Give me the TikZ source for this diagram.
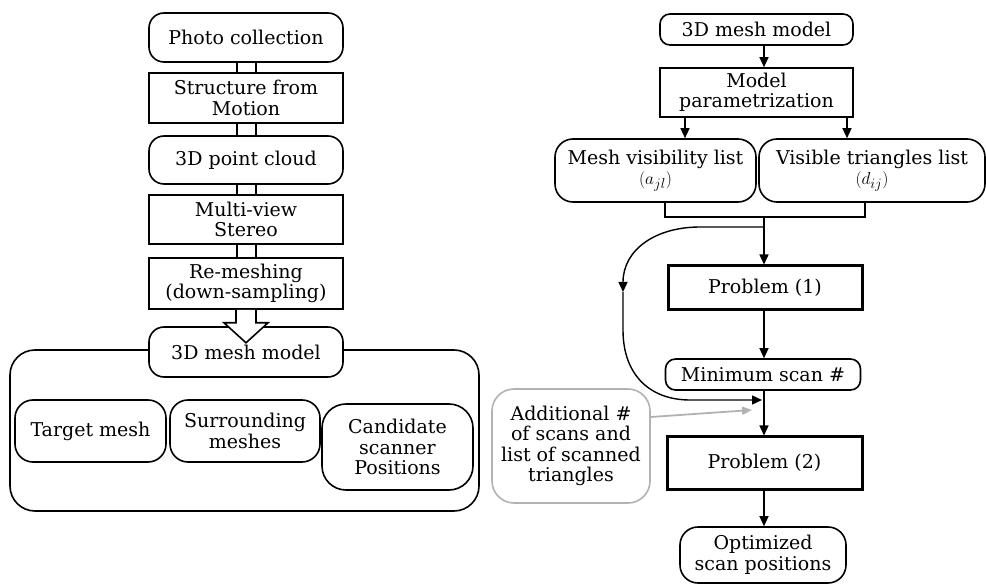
\documentclass[tikz,border=0pt]{standalone}
\usepackage{fontspec}
\setmainfont{DejaVu Serif}
\usetikzlibrary{arrows.meta}
\begin{document}
\begin{tikzpicture}[x=1pt,y=-1pt,
  every node/.style={font=\fontsize{19}{20.5}\selectfont, align=center, inner sep=0pt},
  sbox/.style={draw, line width=1.6pt, fill=white},
  rbox/.style={draw, line width=1.6pt, fill=white, rounded corners=15pt},
  pbox/.style={draw, line width=3pt, fill=white},
  pipe/.style={line width=1.4pt},
  hollow/.style={line width=1.6pt, fill=white, line join=miter},
  arr/.style={line width=1.4pt, -{Triangle[length=10pt,width=9pt]}},
  grayarr/.style={line width=1.8pt, draw=gray!60, -{Triangle[length=10pt,width=8pt,fill=gray!60]}},
  conn/.style={line width=1.4pt}]
\useasboundingbox (0,0) rectangle (986,585);

% ---------- left column ----------
\coordinate (pl) at (237,0);
\coordinate (pr) at (256,0);
\node[rbox, minimum width=194pt, minimum height=49pt] (pc) at (246,37.5) {Photo collection};
\node[sbox, minimum width=194pt, minimum height=50pt] (sfm) at (246,98) {Structure from\\Motion};
\node[rbox, minimum width=194pt, minimum height=48pt] (cloud) at (246,160) {3D point cloud};
\node[sbox, minimum width=194pt, minimum height=49pt] (mvs) at (246,219.5) {Multi-view\\Stereo};
\node[sbox, minimum width=194pt, minimum height=51pt] (remesh) at (246,283.5) {Re-meshing\\(down-sampling)};
\foreach \a/\b in {pc/sfm,sfm/cloud,cloud/mvs,mvs/remesh}{
  \draw[pipe] (\a.south -| pl) -- (\b.north -| pl);
  \draw[pipe] (\a.south -| pr) -- (\b.north -| pr);
}
\node[draw, line width=1.6pt, rounded corners=25pt, minimum width=469pt, minimum height=161pt] (cont) at (244.5,430.5) {};
\node[rbox, minimum width=194pt, minimum height=50pt] (mesh) at (246,352) {3D mesh model};
\draw[hollow] ([xshift=-10pt]remesh.south) -- ++(0,13) -- ++(-12,0) -- ++(22,20) -- ++(22,-20) -- ++(-12,0) -- ++(0,-13);
\node[rbox, minimum width=151pt, minimum height=62pt, rounded corners=18pt] (target) at (90.5,431) {Target mesh};
\node[rbox, minimum width=150pt, minimum height=62pt, rounded corners=18pt] (surr) at (245,431) {Surrounding\\meshes};
\node[rbox, minimum width=151pt, minimum height=86pt, rounded corners=24pt] (cand) at (397.5,447) {Candidate\\scanner\\Positions};

% ---------- right column ----------
\coordinate (spine) at (764,0);
\coordinate (ax1) at (685,0);
\coordinate (ax2) at (847,0);
\node[rbox, minimum width=193pt, minimum height=31pt, rounded corners=10pt] (rmesh) at (756.5,29.5) {3D mesh model};
\node[sbox, minimum width=193pt, minimum height=49pt] (mparam) at (756.5,92.5) {Model\\parametrization};
\node[rbox, minimum width=201pt, minimum height=63pt, rounded corners=18pt] (mvl) at (655.5,170.5) {Mesh visibility list\\$(a_{jl})$};
\node[rbox, minimum width=226pt, minimum height=63pt, rounded corners=18pt] (vtl) at (872,170.5) {Visible triangles list\\$(d_{ij})$};
\coordinate (brL) at (665,217);
\coordinate (brR) at (865,217);
\coordinate (brM) at (764,217);
\draw[conn] (brL |- mvl.south) -- (brL) -- (brR) -- (brR |- vtl.south);
\draw[arr] (rmesh.south -| spine) -- (mparam.north -| spine);
\draw[arr] (mparam.south -| ax1) -- (mvl.north -| ax1);
\draw[arr] (mparam.south -| ax2) -- (vtl.north -| ax2);

\node[pbox, minimum width=194pt, minimum height=44pt] (p1) at (765,288) {Problem (1)};
\node[rbox, minimum width=195pt, minimum height=31pt, rounded corners=10pt] (minscan) at (763,374.5) {Minimum scan \#};
\node[pbox, minimum width=195pt, minimum height=52pt] (p2) at (764.5,463) {Problem (2)};
\node[rbox, minimum width=166pt, minimum height=56pt, rounded corners=18pt] (opt) at (763,555) {Optimized\\scan positions};
\node[rbox, draw=gray!60, minimum width=158pt, minimum height=114pt, rounded corners=22pt] (add) at (571,446) {Additional \#\\of scans and\\list of scanned\\triangles};

\draw[arr] (brM) -- (p1.north -| spine);
\draw[arr] (p1.south -| spine) -- (minscan.north -| spine);
\draw[arr] (minscan.south -| spine) -- (p2.north -| spine);
\draw[arr] (p2.south -| spine) -- (opt.north -| spine);

\coordinate (cstart) at (764,227);
\coordinate (cmid) at (623,292);
\coordinate (cend) at (762,400);
\coordinate (gend) at (752,410);
\draw[arr] (cstart) -- (700,227) .. controls (655,227) and (623,250) .. (cmid);
\draw[arr] (cmid) -- (623,330) .. controls (623,375) and (650,400) .. (690,400) -- (cend);
\draw[grayarr] ([yshift=29pt]add.east) -- (gend);
\end{tikzpicture}
\end{document}
